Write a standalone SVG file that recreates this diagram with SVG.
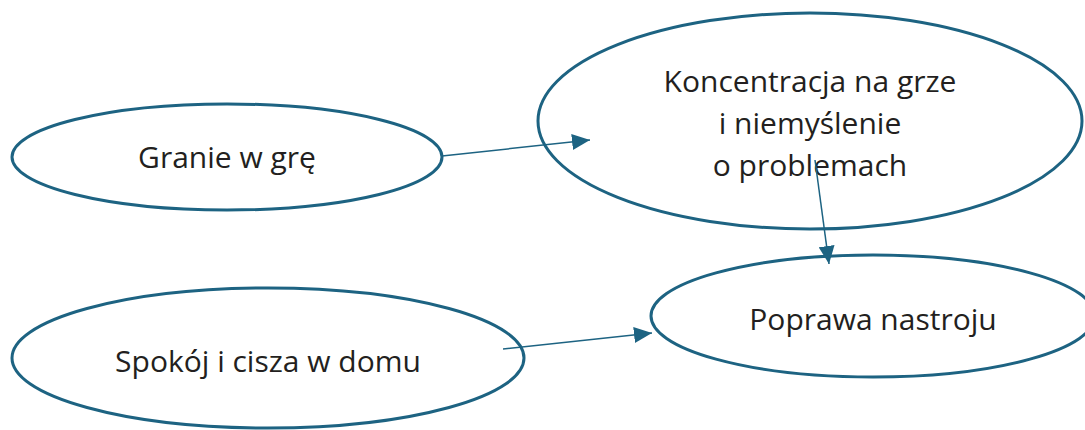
<svg xmlns="http://www.w3.org/2000/svg" width="1085" height="430" viewBox="0 0 1085 430">
<style>
.node ellipse{fill:#fff;stroke:#1d6382;stroke-width:3}
.node text{font-family:"Open Sans","Noto Sans",sans-serif;font-size:30px;fill:#231f20;text-anchor:middle}
.edges line{stroke:#1d6382;stroke-width:1.5}
</style>
<defs>
<marker id="arr" markerUnits="userSpaceOnUse" markerWidth="20" markerHeight="16" refX="18" refY="8" orient="auto" viewBox="0 0 20 16">
<path d="M0,0 L18,8 L0,16 Z" fill="#1d6382"/>
</marker>
</defs>
<rect width="1085" height="430" fill="#fff"/>
<g id="n-granie" class="node">
<ellipse cx="227" cy="157" rx="215" ry="53"/>
<text x="227" y="168">Granie w grę</text>
</g>
<g id="n-koncentracja" class="node">
<ellipse cx="810" cy="121" rx="272" ry="108"/>
<text x="810" y="92">Koncentracja na grze</text>
<text x="810" y="134">i niemyślenie</text>
<text x="810" y="176">o problemach</text>
</g>
<g id="n-poprawa" class="node">
<ellipse cx="873" cy="316" rx="222" ry="61"/>
<text x="873" y="330">Poprawa nastroju</text>
</g>
<g id="n-spokoj" class="node">
<ellipse cx="268" cy="358" rx="256" ry="70"/>
<text x="268" y="372">Spokój i cisza w domu</text>
</g>
<g id="edges" class="edges">
<line x1="442" y1="156" x2="590" y2="140" marker-end="url(#arr)"/>
<line x1="815" y1="160" x2="829" y2="264" marker-end="url(#arr)"/>
<line x1="503" y1="349" x2="652" y2="333" marker-end="url(#arr)"/>
</g>
</svg>
